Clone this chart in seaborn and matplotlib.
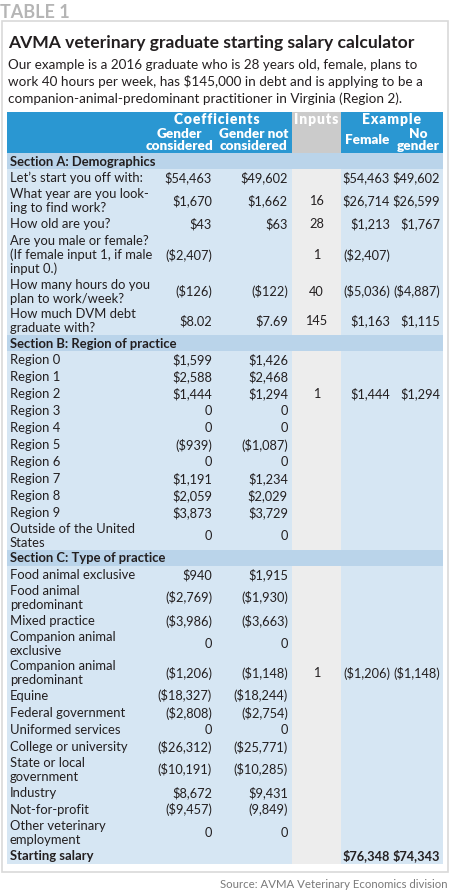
import matplotlib
matplotlib.use("Agg")
import matplotlib.pyplot as plt
from matplotlib.patches import Rectangle
import seaborn as sns

sns.set_theme(style="white")
plt.rcParams["font.family"] = ["Lato", "DejaVu Sans"]

# ---------------- data ----------------
table_tag = "TABLE 1"
title = "AVMA veterinary graduate starting salary calculator"
subtitle = ("Our example is a 2016 graduate who is 28 years old, female, plans to\n"
            "work 40 hours per week, has $145,000 in debt and is applying to be a\n"
            "companion-animal-predominant practitioner in Virginia (Region 2).")
source = "Source: AVMA Veterinary Economics division"

group_headers = ["Coefficients", "Inputs", "Example"]
column_headers = ["Gender\nconsidered", "Gender not\nconsidered", "", "Female", "No\ngender"]

row_labels = [
    "Section A: Demographics",
    "Let\u2019s start you off with:",
    "What year are you look-\ning to find work?",
    "How old are you?",
    "Are you male or female?\n(If female input 1, if male\ninput 0.)",
    "How many hours do you\nplan to work/week?",
    "How much DVM debt\ngraduate with?",
    "Section B: Region of practice",
    "Region 0", "Region 1", "Region 2", "Region 3", "Region 4",
    "Region 5", "Region 6", "Region 7", "Region 8", "Region 9",
    "Outside of the United\nStates",
    "Section C: Type of practice",
    "Food animal exclusive",
    "Food animal\npredominant",
    "Mixed practice",
    "Companion animal\nexclusive",
    "Companion animal\npredominant",
    "Equine",
    "Federal government",
    "Uniformed services",
    "College or university",
    "State or local\ngovernment",
    "Industry",
    "Not-for-profit",
    "Other veterinary\nemployment",
    "Starting salary",
]
row_kinds = (["section"] + ["row"] * 6 + ["section"] + ["row"] * 11 +
             ["section"] + ["row"] * 13 + ["total"])

gender_considered = [
    "", "$54,463", "$1,670", "$43", "($2,407)", "($126)", "$8.02",
    "", "$1,599", "$2,588", "$1,444", "0", "0", "($939)", "0", "$1,191", "$2,059", "$3,873", "0",
    "", "$940", "($2,769)", "($3,986)", "0", "($1,206)", "($18,327)", "($2,808)", "0",
    "($26,312)", "($10,191)", "$8,672", "($9,457)", "0", "",
]
gender_not_considered = [
    "", "$49,602", "$1,662", "$63", "", "($122)", "$7.69",
    "", "$1,426", "$2,468", "$1,294", "0", "0", "($1,087)", "0", "$1,234", "$2,029", "$3,729", "0",
    "", "$1,915", "($1,930)", "($3,663)", "0", "($1,148)", "($18,244)", "($2,754)", "0",
    "($25,771)", "($10,285)", "$9,431", "(9,849)", "0", "",
]
inputs = [
    "", "", "16", "28", "1", "40", "145",
    "", "", "", "1", "", "", "", "", "", "", "", "",
    "", "", "", "", "", "1", "", "", "", "", "", "", "", "", "",
]
example_female = [
    "", "$54,463", "$26,714", "$1,213", "($2,407)", "($5,036)", "$1,163",
    "", "", "", "$1,444", "", "", "", "", "", "", "", "",
    "", "", "", "", "", "($1,206)", "", "", "", "", "", "", "", "", "$76,348",
]
example_no_gender = [
    "", "$49,602", "$26,599", "$1,767", "", "($4,887)", "$1,115",
    "", "", "", "$1,294", "", "", "", "", "", "", "", "",
    "", "", "", "", "", "($1,148)", "", "", "", "", "", "", "", "", "$74,343",
]

# ---------------- styling ----------------
W, H = 450, 894
BLUE = "#2a97d2"
GRAY_HEAD = "#cbcbcb"
CELL = "#d6e6f3"
SECTION = "#bad4ea"
INPUT_CELL = "#ededed"
TXT = "#231f20"

col_x = [7, 142, 216, 292, 341, 393, 443]

fig = plt.figure(figsize=(W / 100, H / 100), dpi=100)
ax = fig.add_axes([0, 0, 1, 1])
ax.set_xlim(0, W)
ax.set_ylim(H, 0)
ax.axis("off")

gap = 0.8


def cell(x0, x1, y0, y1, color):
    ax.add_patch(Rectangle((x0 + gap / 2, y0 + gap / 2), x1 - x0 - gap, y1 - y0 - gap,
                           facecolor=color, edgecolor="none"))


def spaced(s):
    return "\u200a".join(s)


# outer frame
ax.add_patch(Rectangle((1.5, 21), 446, 851, facecolor="white", edgecolor="#d9d9d9", lw=1.2))
ax.text(0, 13, table_tag, fontsize=13, fontweight="bold", color="#b5b5b5", va="center", ha="left")
ax.text(8, 43, title, fontsize=12.6, fontweight="bold", color=TXT, va="center", ha="left")
ax.text(8, 82, subtitle, fontsize=9.75, color=TXT, va="center", ha="left", linespacing=1.37)

# header rows
h1 = (112, 125)
h2 = (125, 153)
cell(col_x[0], col_x[1], *h1, BLUE)
cell(col_x[1], col_x[3], *h1, BLUE)
cell(col_x[3], col_x[4], *h1, GRAY_HEAD)
cell(col_x[4], col_x[6], *h1, BLUE)
cell(col_x[0], col_x[1], *h2, BLUE)
for i in range(1, 6):
    cell(col_x[i], col_x[i + 1], *h2, GRAY_HEAD if i == 3 else BLUE)

ym1 = sum(h1) / 2 + 0.5
hfam = ["Lato", "DejaVu Sans"]
ax.text((col_x[1] + col_x[3]) / 2, ym1, spaced(group_headers[0]), color="white", fontsize=10,
        fontweight="heavy", ha="center", va="center", family=hfam)
ax.text((col_x[3] + col_x[4]) / 2, ym1, spaced(group_headers[1]), color="white", fontsize=10,
        fontweight="heavy", ha="center", va="center", family=hfam)
ax.text((col_x[4] + col_x[6]) / 2, ym1, spaced(group_headers[2]), color="white", fontsize=10,
        fontweight="heavy", ha="center", va="center", family=hfam)
ym2 = sum(h2) / 2 + 0.5
for i, lab in enumerate(column_headers):
    if lab:
        ax.text((col_x[i + 1] + col_x[i + 2]) / 2, ym2, lab, color="white", fontsize=9.7,
                fontweight="heavy", ha="center", va="center", linespacing=1.0)

# body
heights = {1: 17, 2: 29, 3: 45}
y = 153
FS = 9.4
NFS = 9.2
for k, lab in enumerate(row_labels):
    kind = row_kinds[k]
    nlines = lab.count("\n") + 1
    hgt = 16 if kind == "section" else heights[nlines]
    y0, y1 = y, y + hgt
    yc = (y0 + y1) / 2 + 0.5
    if kind == "section":
        cell(col_x[0], col_x[6], y0, y1, SECTION)
        ax.text(10, yc, lab, fontsize=FS, fontweight="bold", color=TXT, ha="left", va="center")
    else:
        for i in range(6):
            cell(col_x[i], col_x[i + 1], y0, y1, INPUT_CELL if i == 3 else CELL)
        bold = "bold" if kind == "total" else "normal"
        ax.text(10, yc, lab, fontsize=FS, fontweight=bold, color=TXT, ha="left", va="center",
                linespacing=1.13)
        ax.text(col_x[2] - 4, yc, gender_considered[k], fontsize=NFS, color=TXT, ha="right", va="center")
        ax.text(col_x[3] - 4, yc, gender_not_considered[k], fontsize=NFS, color=TXT, ha="right", va="center")
        ax.text((col_x[3] + col_x[4]) / 2, yc, inputs[k], fontsize=NFS, color=TXT, ha="center", va="center")
        ax.text(col_x[5] - 3, yc, example_female[k], fontsize=NFS, fontweight=bold, color=TXT,
                ha="right", va="center")
        ax.text(col_x[6] - 3, yc, example_no_gender[k], fontsize=NFS, fontweight=bold, color=TXT,
                ha="right", va="center")
    y = y1

ax.text(447, 885, source, fontsize=8.2, color="#7a7a7a", ha="right", va="center")

fig.savefig("out.png", dpi=100)
